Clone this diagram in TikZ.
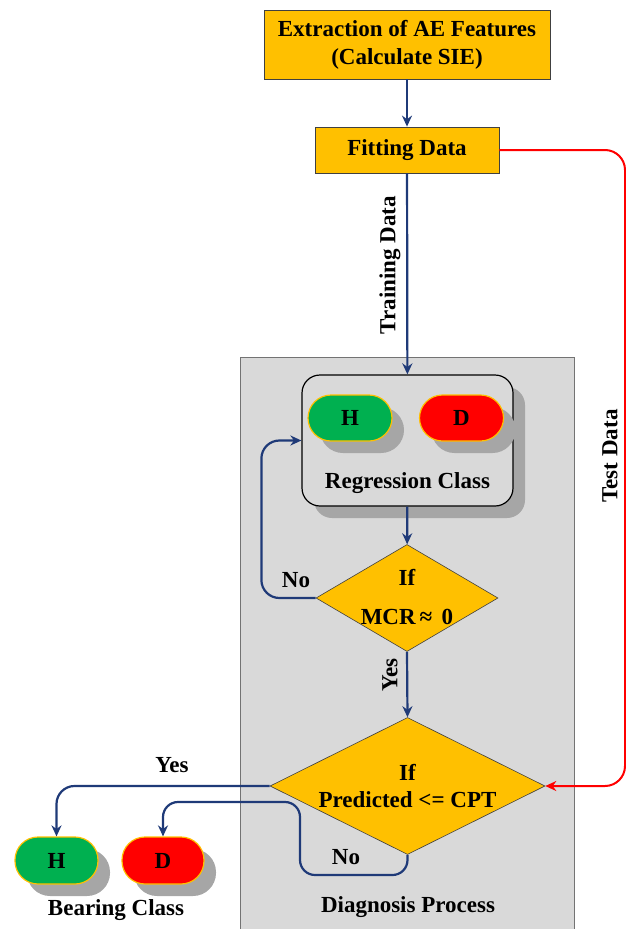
\documentclass[tikz,border=0pt]{standalone}
\usepackage{fontspec}
\setmainfont{Liberation Serif}
\usetikzlibrary{shapes.geometric,shadows,arrows.meta}
\definecolor{gold}{HTML}{FFC000}
\definecolor{navy}{HTML}{1F3A78}
\definecolor{panelgray}{HTML}{D9D9D9}
\definecolor{shad}{HTML}{A6A6A6}
\definecolor{hgreen}{HTML}{00B050}
\definecolor{dred}{HTML}{FF0000}
\begin{document}
\begin{tikzpicture}[x=1pt,y=-1pt,
  every node/.style={font=\bfseries\fontsize{23}{28}\selectfont, inner sep=0pt},
  goldbox/.style={rectangle, fill=gold, draw=black!75, line width=0.8pt, align=center},
  pill/.style={rectangle, rounded corners=23pt, minimum width=84pt, minimum height=46pt, draw=gold, line width=1.2pt,
     drop shadow={shadow xshift=12pt, shadow yshift=-12pt, fill=shad, opacity=1}},
  diam/.style={diamond, fill=gold, draw=black!75, line width=0.6pt, inner sep=0pt},
  nav/.style={draw=navy, line width=2.2pt, -{Stealth[length=11pt,width=10pt]}},
  redl/.style={draw=dred, line width=2pt, -{Stealth[length=11pt,width=10pt]}},
  lbl/.style={text=black}
]
\useasboundingbox (0,0) rectangle (626,929);
% panel
\node[rectangle, fill=panelgray, draw=black!55, line width=0.8pt, minimum width=334pt, minimum height=580pt, anchor=north west] (panel) at (240,357) {};
% top boxes
\node[goldbox, minimum width=286pt, minimum height=69pt] (top) at (407,44.5) {Extraction of AE Features\\(Calculate SIE)};
\node[goldbox, minimum width=184pt, minimum height=46pt] (fit) at (407,150) {Fitting Data};
% regression box
\node[rectangle, rounded corners=18pt, fill=panelgray, draw=black, line width=1.2pt, minimum width=211pt, minimum height=131pt,
  drop shadow={shadow xshift=12pt, shadow yshift=-12pt, fill=shad, opacity=1}] (reg) at (407.5,440.5) {};
\node[pill, fill=hgreen] (rh) at (350,418) {H};
\node[pill, fill=dred] (rd) at (461.5,418) {D};
\node[lbl] (regt) at (407.5,483) {Regression Class};
% diamonds
\node[diam, minimum width=182pt, minimum height=107pt] (d1) at (407,598) {};
\node[lbl] (d1a) at (407,577) {If};
\node[lbl] (d1b) at (407,617) {MCR\,≈\, 0};
\node[diam, minimum width=275pt, minimum height=137pt] (d2) at (407.5,786) {};
\node[lbl] (d2a) at (407.5,772) {If};
\node[lbl] (d2b) at (407.5,800) {Predicted <= CPT};
% bottom pills
\node[pill, fill=hgreen, minimum width=83pt, minimum height=47pt] (bh) at (56.5,860.5) {H};
\node[pill, fill=dred, minimum width=82pt, minimum height=47pt] (bd) at (163,860.5) {D};
\node[lbl] (bcl) at (116,910) {Bearing Class};
\node[lbl] (dpl) at (408,907) {Diagnosis Process};
% connectors
\draw[nav] (top) -- (fit);
\draw[nav] (fit) -- (reg);
\node[lbl, rotate=90] (trl) at (390,265) {Training Data};
\draw[nav] (reg) -- (d1);
\draw[nav, rounded corners=18pt] (d1.west) -| ([xshift=-40pt]reg.west) -- (reg.west);
\node[lbl] (no1) at (296,580) {No};
\draw[nav] (d1.south) -- (d2.north);
\node[lbl, rotate=90] (yes1) at (390,675) {Yes};
\coordinate (rc) at (625,500);
\draw[redl, rounded corners=20pt] (fit.east) -| (rc) |- (d2.east);
\node[lbl, rotate=90] (tdl) at (610,456) {Test Data};
\draw[nav, rounded corners=18pt] (d2.west) -| (bh.north);
\node[lbl] (yes2) at (172,765) {Yes};
\coordinate (nob) at (300,875);
\coordinate (not) at (300,802);
\draw[nav, rounded corners=15pt] (d2.south) |- (nob) -- (not) -| (bd.north);
\node[lbl] (no2) at (346,857) {No};
\end{tikzpicture}
\end{document}
